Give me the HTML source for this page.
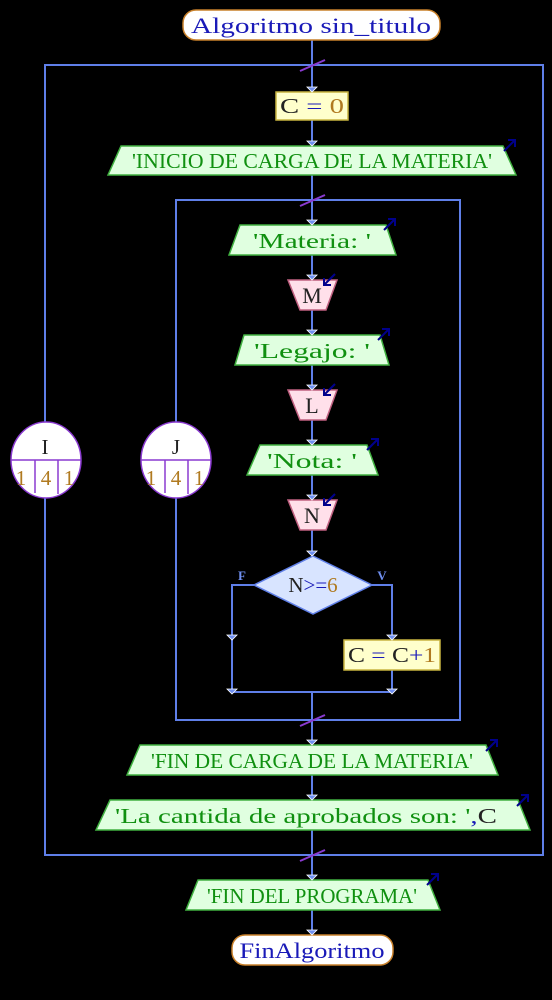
<!DOCTYPE html>
<html><head><meta charset="utf-8"><style>
html,body{margin:0;padding:0;background:#000;}
svg{display:block;}
text{font-family:"Liberation Serif",serif;}
</style></head><body>
<svg width="552" height="1000" viewBox="0 0 552 1000" xmlns="http://www.w3.org/2000/svg">
<defs>
<g id="ah"><polygon points="-5,-5 5,-5 0,0" fill="#6f8ff0" stroke="#fff" stroke-width="0.8"/></g>
<g id="outa"><line x1="0" y1="12" x2="11" y2="1" stroke="#00008b" stroke-width="2"/><polyline points="4,1 11,1 11,8" fill="none" stroke="#00008b" stroke-width="2"/></g>
<g id="ina"><line x1="12" y1="0" x2="1" y2="11" stroke="#00008b" stroke-width="2"/><polyline points="1,4 1,11 8,11" fill="none" stroke="#00008b" stroke-width="2"/></g>
</defs>
<g stroke="#5f7fe8" stroke-width="2" fill="none">
<line x1="312" y1="40" x2="312" y2="585"/>
<line x1="312" y1="692" x2="312" y2="935"/>
<rect x="45" y="65" width="498" height="790"/>
<rect x="176" y="200" width="284" height="520"/>
<polyline points="254,585 232,585 232,692 392,692 392,585 372,585"/>
</g>
<g stroke="#8a3ad0" stroke-width="2">
<line x1="300" y1="71" x2="325" y2="60"/>
<line x1="300" y1="206" x2="325" y2="195"/>
<line x1="300" y1="726" x2="325" y2="715"/>
<line x1="300" y1="861" x2="325" y2="850"/>
</g>
<rect x="183" y="10" width="257" height="30" rx="13" fill="#fff" stroke="#c8802a" stroke-width="1.5"/>
<text x="311" y="33" font-size="22" fill="#1a1ab8" text-anchor="middle" textLength="240" lengthAdjust="spacingAndGlyphs">Algoritmo sin_titulo</text>
<rect x="276" y="92" width="72" height="28" fill="#ffffcc" stroke="#c8b440" stroke-width="1.5"/>
<text x="280" y="113" font-size="21" fill="#222" textLength="64" lengthAdjust="spacingAndGlyphs"><tspan>C</tspan><tspan fill="#1a1ab8"> = </tspan><tspan fill="#b07a20">0</tspan></text>
<g fill="#e0ffe0" stroke="#40b040" stroke-width="1.5">
<polygon points="121,146 503,146 516,175 108,175"/>
<polygon points="240,225 386,225 396,255 229,255"/>
<polygon points="244,335 380,335 389,365 235,365"/>
<polygon points="260,445 367,445 378,475 247,475"/>
<polygon points="140,745 486,745 498,775 127,775"/>
<polygon points="110,800 518,800 530,830 96,830"/>
<polygon points="198,880 428,880 440,910 186,910"/>
</g>
<g font-size="21" fill="#109010">
<text x="312" y="168" text-anchor="middle" textLength="360" lengthAdjust="spacingAndGlyphs">'INICIO DE CARGA DE LA MATERIA'</text>
<text x="312" y="248" text-anchor="middle" textLength="118" lengthAdjust="spacingAndGlyphs">'Materia: '</text>
<text x="312" y="358" text-anchor="middle" textLength="116" lengthAdjust="spacingAndGlyphs">'Legajo: '</text>
<text x="312" y="468" text-anchor="middle" textLength="90" lengthAdjust="spacingAndGlyphs">'Nota: '</text>
<text x="312" y="768" text-anchor="middle" textLength="322" lengthAdjust="spacingAndGlyphs">'FIN DE CARGA DE LA MATERIA'</text>
<text x="115" y="823" textLength="382" lengthAdjust="spacingAndGlyphs">'La cantida de aprobados son: '<tspan fill="#1a1ab8">,</tspan><tspan fill="#222">C</tspan></text>
<text x="312" y="903" text-anchor="middle" textLength="210" lengthAdjust="spacingAndGlyphs">'FIN DEL PROGRAMA'</text>
</g>
<g fill="#ffe0ea" stroke="#c06080" stroke-width="1.5">
<polygon points="288,280 337,280 326,310 300,310"/>
<polygon points="288,390 337,390 326,420 300,420"/>
<polygon points="288,500 337,500 326,530 300,530"/>
</g>
<g font-size="22" fill="#222" text-anchor="middle">
<text x="312" y="303">M</text>
<text x="312" y="413">L</text>
<text x="312" y="523">N</text>
</g>
<polygon points="313,556 372,585 313,614 254,585" fill="#d8e4ff" stroke="#5f7fe8" stroke-width="1.5"/>
<text x="313" y="592" font-size="21" text-anchor="middle" fill="#222">N<tspan fill="#1a1ab8">&gt;=</tspan><tspan fill="#b07a20">6</tspan></text>
<text x="242" y="580" font-size="13" fill="#6f8ff0" text-anchor="middle" font-family="Liberation Mono, monospace" font-weight="bold">F</text>
<text x="382" y="580" font-size="13" fill="#6f8ff0" text-anchor="middle" font-family="Liberation Mono, monospace" font-weight="bold">V</text>
<rect x="344" y="640" width="96" height="30" fill="#ffffcc" stroke="#c8b440" stroke-width="1.5"/>
<text x="348" y="662" font-size="21" fill="#222" textLength="88" lengthAdjust="spacingAndGlyphs">C<tspan fill="#1a1ab8"> = </tspan>C<tspan fill="#1a1ab8">+</tspan><tspan fill="#b07a20">1</tspan></text>
<rect x="232" y="935" width="161" height="30" rx="13" fill="#fff" stroke="#c8802a" stroke-width="1.5"/>
<text x="312" y="958" font-size="22" fill="#1a1ab8" text-anchor="middle" textLength="145" lengthAdjust="spacingAndGlyphs">FinAlgoritmo</text>
<g>
<ellipse cx="46" cy="460" rx="35" ry="38" fill="#fff" stroke="#8a3ad0" stroke-width="1.5"/>
<line x1="11" y1="460" x2="81" y2="460" stroke="#8a3ad0" stroke-width="1.5"/>
<line x1="35" y1="460" x2="35" y2="493" stroke="#8a3ad0" stroke-width="1.5"/>
<line x1="58" y1="460" x2="58" y2="494" stroke="#8a3ad0" stroke-width="1.5"/>
<text x="45" y="454" font-size="21" text-anchor="middle" fill="#222">I</text>
<text x="21" y="485" font-size="21" text-anchor="middle" fill="#b07a20">1</text>
<text x="46" y="485" font-size="21" text-anchor="middle" fill="#b07a20">4</text>
<text x="69" y="485" font-size="21" text-anchor="middle" fill="#b07a20">1</text>
<ellipse cx="176" cy="460" rx="35" ry="38" fill="#fff" stroke="#8a3ad0" stroke-width="1.5"/>
<line x1="141" y1="460" x2="211" y2="460" stroke="#8a3ad0" stroke-width="1.5"/>
<line x1="165" y1="460" x2="165" y2="493" stroke="#8a3ad0" stroke-width="1.5"/>
<line x1="188" y1="460" x2="188" y2="494" stroke="#8a3ad0" stroke-width="1.5"/>
<text x="176" y="454" font-size="21" text-anchor="middle" fill="#222">J</text>
<text x="151" y="485" font-size="21" text-anchor="middle" fill="#b07a20">1</text>
<text x="176" y="485" font-size="21" text-anchor="middle" fill="#b07a20">4</text>
<text x="199" y="485" font-size="21" text-anchor="middle" fill="#b07a20">1</text>
</g>
<use href="#ah" x="312" y="92"/>
<use href="#ah" x="312" y="146"/>
<use href="#ah" x="312" y="225"/>
<use href="#ah" x="312" y="280"/>
<use href="#ah" x="312" y="335"/>
<use href="#ah" x="312" y="390"/>
<use href="#ah" x="312" y="445"/>
<use href="#ah" x="312" y="500"/>
<use href="#ah" x="312" y="556"/>
<use href="#ah" x="232" y="640"/>
<use href="#ah" x="392" y="640"/>
<use href="#ah" x="232" y="694"/>
<use href="#ah" x="392" y="694"/>
<use href="#ah" x="312" y="745"/>
<use href="#ah" x="312" y="800"/>
<use href="#ah" x="312" y="880"/>
<use href="#ah" x="312" y="935"/>
<use href="#outa" x="504" y="139"/>
<use href="#outa" x="384" y="218"/>
<use href="#outa" x="378" y="328"/>
<use href="#outa" x="367" y="438"/>
<use href="#outa" x="486" y="739"/>
<use href="#outa" x="517" y="794"/>
<use href="#outa" x="427" y="873"/>
<use href="#ina" x="323" y="274"/>
<use href="#ina" x="323" y="384"/>
<use href="#ina" x="323" y="494"/>
</svg>
</body></html>
